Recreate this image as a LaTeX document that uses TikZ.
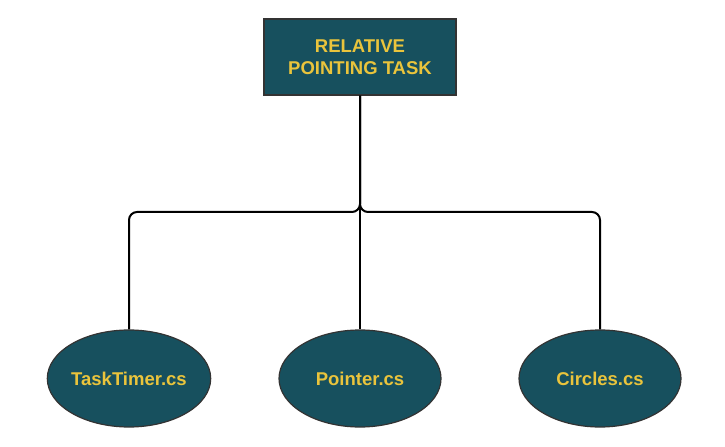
\documentclass[tikz,border=0pt]{standalone}
\usepackage{fontspec}
\setmainfont{Liberation Sans}
\usetikzlibrary{shapes.geometric}
\definecolor{teal}{HTML}{17505E}
\definecolor{gold}{HTML}{EAC43C}
\definecolor{edge}{HTML}{333333}
\tikzset{
  box/.style={draw=edge, line width=1.5bp, fill=teal, minimum width=192bp, minimum height=76bp, inner sep=0pt, align=center, text=gold, font=\fontsize{18.5bp}{22bp}\selectfont\bfseries},
  file/.style={ellipse, draw=edge, line width=1.2bp, fill=teal, minimum width=162bp, minimum height=97bp, inner sep=0pt, text=gold, font=\fontsize{18.5bp}{22bp}\selectfont\bfseries},
  link/.style={line width=2bp, black, rounded corners=8bp}
}
\begin{document}
\begin{tikzpicture}[x=1bp, y=-1bp]
\path[use as bounding box, fill=white] (0,0) rectangle (725,447);
\node[box] (top) at (360,57) {RELATIVE\\POINTING TASK};
\node[file] (l) at (129,378.5) {TaskTimer.cs};
\node[file] (m) at (360,378.5) {Pointer.cs};
\node[file] (r) at (600,378.5) {Circles.cs};
\coordinate (j) at (360,212);
\draw[link] (top.south) -- (j) -| (l.north);
\draw[link] (top.south) -- (j) -| (r.north);
\draw[link] (top.south) -- (m.north);
\end{tikzpicture}
\end{document}
